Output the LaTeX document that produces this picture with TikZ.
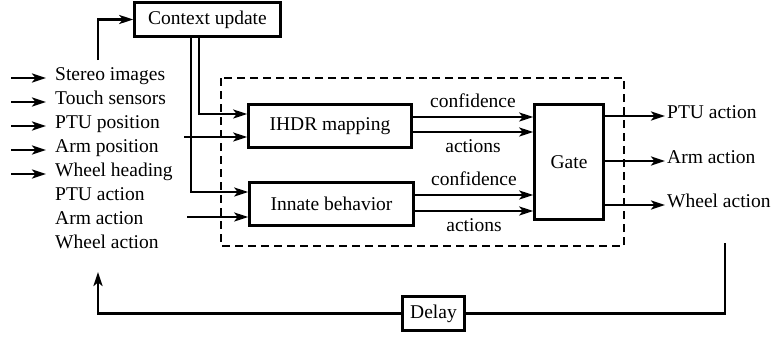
\documentclass[tikz,border=0pt]{standalone}
\usepackage{fontspec}
\setmainfont{Liberation Serif}
\usetikzlibrary{arrows.meta}

\tikzset{
    blk/.style={draw, line width=2.6pt, inner sep=0pt},
    arr/.style={line width=2.4pt, -{Stealth[length=14pt,width=9pt,inset=3.5pt]}},
    wire/.style={line width=2.4pt},
    txt/.style={inner ysep=0pt, text height=0.7em, text depth=0.22em}
}

\begin{document}
\begin{tikzpicture}[x=1pt, y=-1pt, font=\fontsize{19.5}{22}\selectfont]
        \useasboundingbox (0,0) rectangle (774,343);

        % blocks
        \node[blk, minimum width=146, minimum height=34] (ctx) at (207.5,19.5) {Context update};
        \node[blk, minimum width=163, minimum height=43] (ihdr) at (330,126) {IHDR mapping};
        \node[blk, minimum width=164, minimum height=43] (innate) at (331.5,204) {Innate behavior};
        \node[blk, minimum width=69, minimum height=115] (gate) at (569,162) {Gate};
        \node[blk, minimum width=62, minimum height=34] (delay) at (433.5,313.5) {Delay};
        \draw[line width=2.4pt, dash pattern=on 8pt off 5pt] (221,78) rectangle (624,246);

        % inputs on the left
        \node[txt, anchor=west, inner xsep=9pt] (in1) at (46,78) {Stereo images};
        \node[txt, anchor=west, inner xsep=9pt] (in2) at (46,102) {Touch sensors};
        \node[txt, anchor=west, inner xsep=9pt] (in3) at (46,126) {PTU position};
        \node[txt, anchor=west, inner xsep=9pt] (in4) at (46,150) {Arm position};
        \node[txt, anchor=west, inner xsep=9pt] (in5) at (46,174) {Wheel heading};
        \node[txt, anchor=west, inner xsep=9pt] (in6) at (46,198) {PTU action};
        \node[txt, anchor=west, inner xsep=9pt] (in7) at (46,222) {Arm action};
        \node[txt, anchor=west, inner xsep=9pt] (in8) at (46,246) {Wheel action};
        \foreach \i in {1,...,5} {
            \draw[arr] (11,0 |- in\i.west) -- (in\i.west);
        }

        % outputs on the right
        \node[txt, anchor=west, inner xsep=2pt] (out1) at (665,116) {PTU action};
        \node[txt, anchor=west, inner xsep=2pt] (out2) at (665,161) {Arm action};
        \node[txt, anchor=west, inner xsep=2pt] (out3) at (665,205) {Wheel action};
        \foreach \i in {1,2,3} {
            \draw[arr] (gate.east |- out\i.west) -- (out\i.west);
        }

        % context update
        \coordinate (ctxin) at (98,60);
        \draw[arr] (ctxin) |- (ctx.west);
        \draw[arr] ([xshift=-8.5pt]ctx.south) |- ([yshift=12pt]ihdr.west);
        \draw[arr] ([xshift=-16.5pt]ctx.south) |- ([yshift=12pt]innate.west);
        \coordinate (ihdrin) at (184,137);
        \coordinate (innatein) at (187,217);
        \draw[arr] (ihdrin) -- (ihdrin -| ihdr.west);
        \draw[arr] (innatein) -- (innatein -| innate.west);

        % into the gate
        \draw[arr] ([yshift=9pt]ihdr.east) -- ([yshift=9pt]ihdr.east -| gate.west)
            node[midway, above=5pt] {confidence};
        \draw[arr] ([yshift=-6pt]ihdr.east) -- ([yshift=-6pt]ihdr.east -| gate.west)
            node[midway, below=3pt] {actions};
        \draw[arr] ([yshift=9pt]innate.east) -- ([yshift=9pt]innate.east -| gate.west)
            node[midway, above=5pt] {confidence};
        \draw[arr] ([yshift=-7pt]innate.east) -- ([yshift=-7pt]innate.east -| gate.west)
            node[midway, below=3pt] {actions};

        % feedback through the delay
        \coordinate (fbout) at (725,243);
        \coordinate (fbin) at (98,272);
        \draw[wire] (fbout) |- (delay.east);
        \draw[arr] (delay.west) -| (fbin);
    \end{tikzpicture}
\end{document}
